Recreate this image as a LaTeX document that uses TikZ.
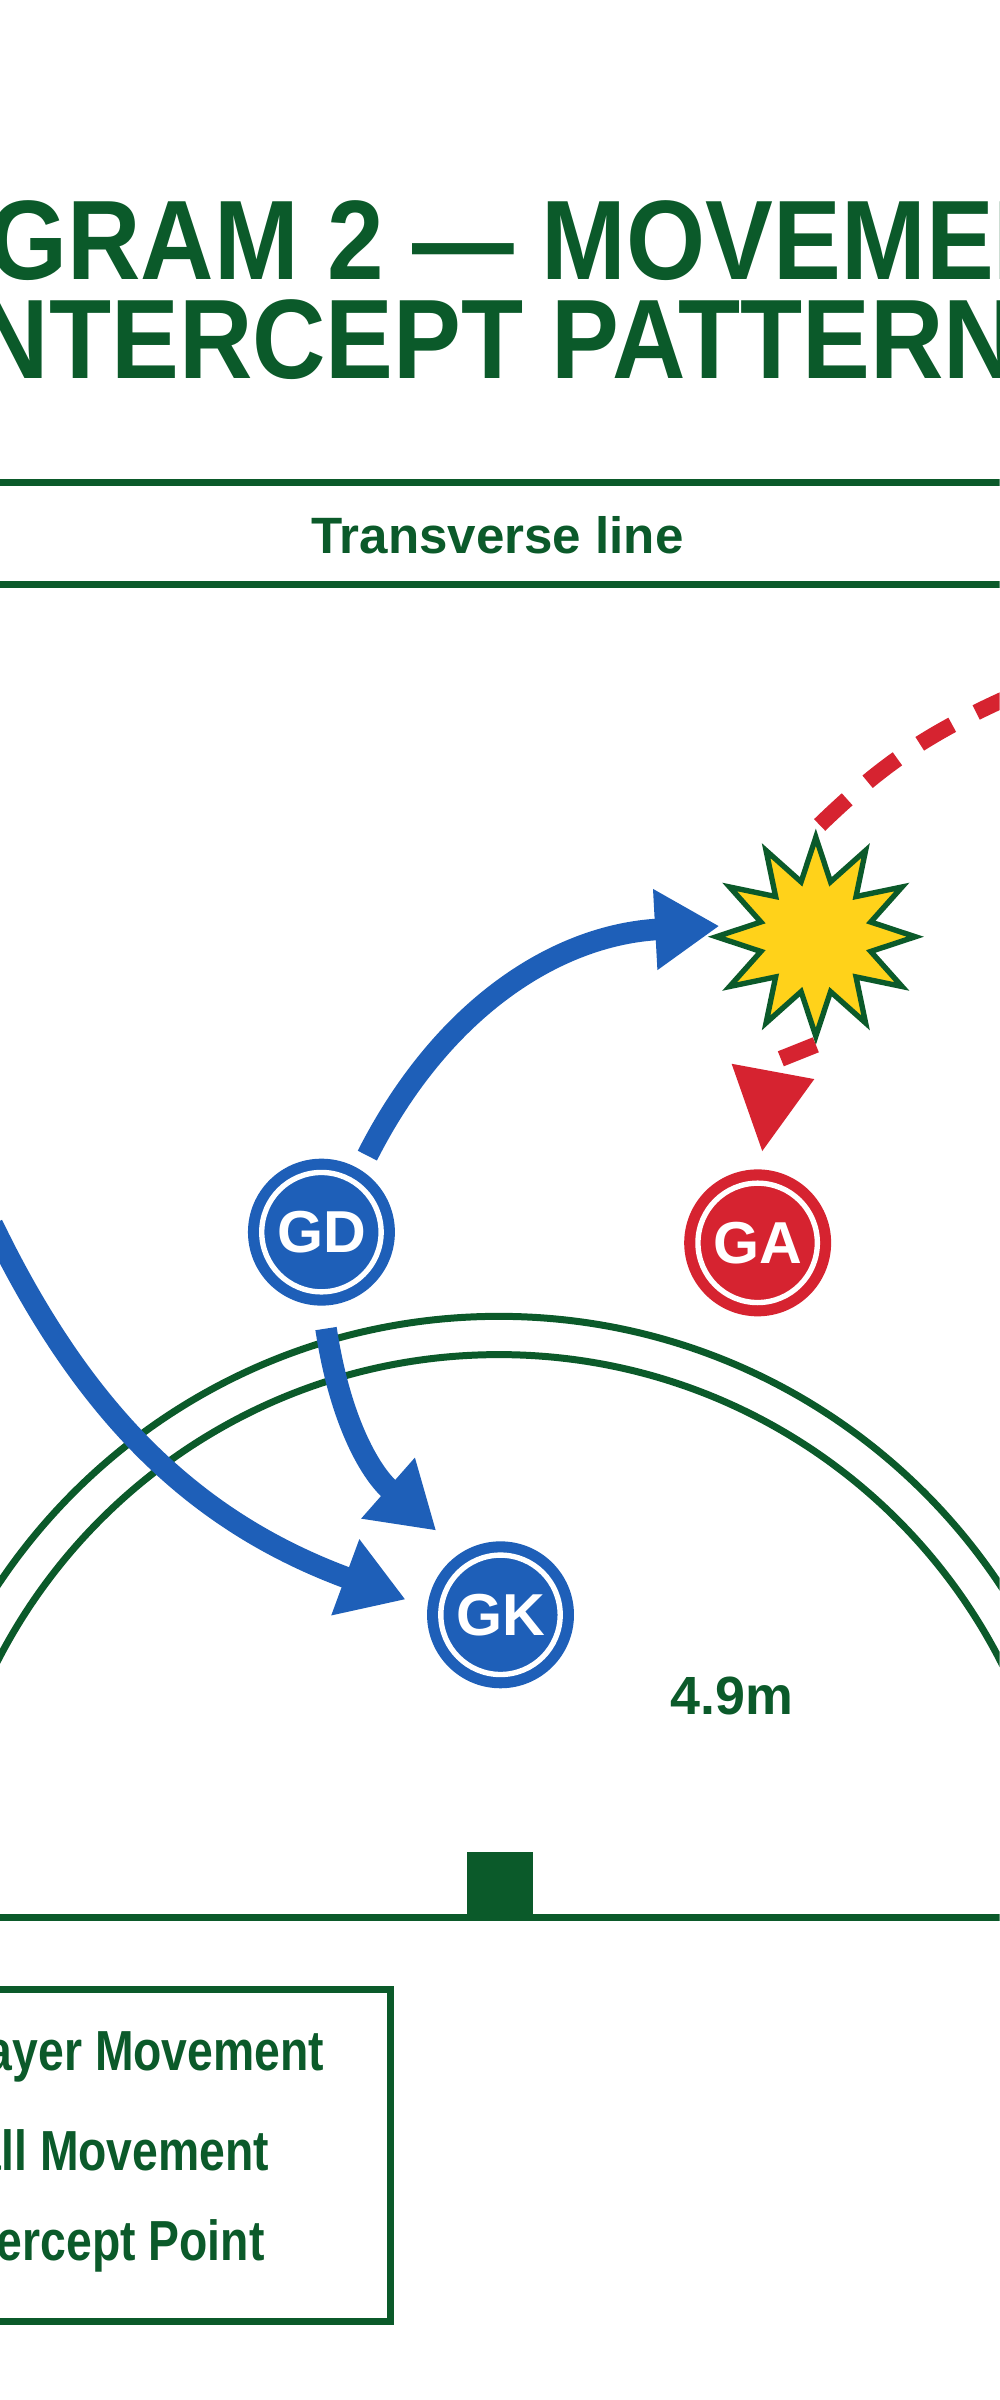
\documentclass[tikz,border=0pt]{standalone}
\usepackage{fontspec}
\setmainfont{Liberation Sans}
\usepackage{tikz}
\usetikzlibrary{arrows.meta,shapes.geometric,positioning}
\definecolor{pitch}{HTML}{0B5A2A}
\definecolor{moveblue}{HTML}{1E5FB8}
\definecolor{ballred}{HTML}{D62330}
\definecolor{starfill}{HTML}{FFD21A}
\tikzset{
  courtline/.style={pitch,line width=1.3pt},
  player/.style={circle,minimum size=0.96cm,inner sep=0pt,text=white,
    font=\bfseries\fontsize{11}{11}\selectfont},
  playermove/.style={moveblue,line width=4pt,-{Triangle[length=0.42cm,width=0.5cm]}},
  ballmove/.style={ballred,line width=3pt,dash pattern=on 7pt off 5pt},
  legendtext/.style={pitch,anchor=east,xscale=0.82,font=\bfseries\fontsize{10.5}{12}\selectfont}
}
\begin{document}
\begin{tikzpicture}
\useasboundingbox (0,0) rectangle (6.53,-15.68);
\clip (0,0) rectangle (6.53,-15.68);
\fill[white] (0,0) rectangle (6.53,-15.68);

% Title
\node[pitch,xscale=0.9,font=\bfseries\fontsize{21}{24}\selectfont] (title1) at (3.08,-1.57) {DIAGRAM 2 — MOVEMENT};
\node[pitch,xscale=0.9,font=\bfseries\fontsize{21}{24}\selectfont] (title2) at (3.15,-2.22) {INTERCEPT PATTERN};

% Court lines
\draw[courtline] (0,-3.15) -- (6.53,-3.15);
\draw[courtline] (0,-3.82) -- (6.53,-3.82);
\node[pitch,font=\bfseries\fontsize{9.5}{11}\selectfont] (transverse) at (3.25,-3.50) {Transverse line};
\draw[courtline] (0,-12.53) -- (6.53,-12.53);
\fill[pitch] (3.05,-12.53) rectangle (3.48,-12.10);
\draw[courtline] (-0.67,-12.53) arc[start angle=180,end angle=0,radius=3.93];
\draw[courtline] (-0.42,-12.53) arc[start angle=180,end angle=0,radius=3.68];
\node[pitch,font=\bfseries\fontsize{10}{12}\selectfont] (dist) at (4.78,-11.08) {4.9m};

% Players and intercept
\node[player,fill=moveblue] (GD) at (2.10,-8.05) {GD};
\node[player,fill=ballred] (GA) at (4.95,-8.12) {GA};
\node[player,fill=moveblue] (GK) at (3.27,-10.55) {GK};
\foreach \p in {GD,GA,GK}
  \draw[white,line width=1pt] (\p) circle (0.39);
\node[star,star points=12,star point ratio=1.75,minimum size=1.3cm,fill=starfill,draw=pitch,line width=1pt] (hit) at (5.33,-6.12) {};
\coordinate (entry) at (-0.05,-8.0);
\coordinate (ballin) at (6.6,-4.55);

% Movements
\draw[ballmove] (ballin) to[bend right=10] (hit.north);
\draw[ballmove] (hit.south) -- (5.02,-6.95);
\fill[ballred] (4.78,-6.95) -- (5.32,-7.05) -- (4.98,-7.52) -- cycle;
\draw[playermove] (2.40,-7.55) to[bend left=30] (4.70,-6.05);
\draw[playermove] (2.13,-8.68) to[bend right=20] (2.85,-10.00);
\draw[playermove] (entry) to[bend right=22] (2.65,-10.45);

% Legend
\draw[courtline] (-0.2,-13.00) rectangle (2.55,-15.17);
\node[legendtext] (leg1) at (2.22,-13.43) {Player Movement};
\node[legendtext] (leg2) at (1.86,-14.05) {Ball Movement};
\node[legendtext] (leg3) at (1.83,-14.67) {Intercept Point};
\end{tikzpicture}
\end{document}
